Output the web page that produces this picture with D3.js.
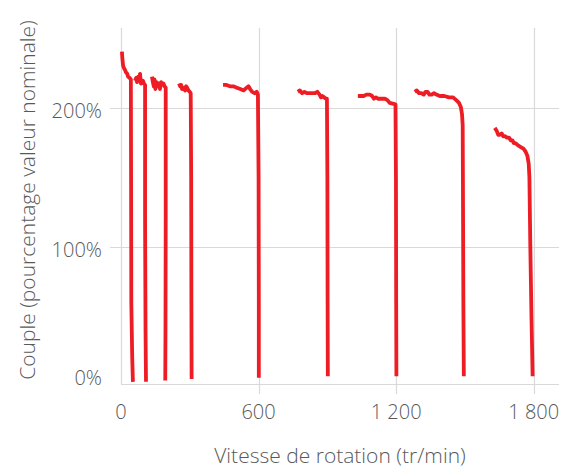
<!DOCTYPE html>
<html>
<head>
<meta charset="utf-8">
<script src="https://cdn.jsdelivr.net/npm/d3@7"></script>
<style>
  html, body { margin: 0; padding: 0; background: #fff; }
  svg { display: block; }
  text { font-family: "Open Sans", "Segoe UI", sans-serif; font-weight: 300; fill: #595959; }
</style>
</head>
<body>
<svg id="chart" width="580" height="470"></svg>
<script>
// Tick values and labels
const xTicks = [0, 600, 1200, 1800];
const xTickLabels = ["0", "600", "1\u00a0200", "1\u00a0800"];
const yTicks = [0, 100, 200];
const yTickLabels = ["0%", "100%", "200%"];

// Torque (% of nominal) vs rotation speed (tr/min), one curve per frequency setting
const curve1 = [[4,241],[6,236],[9,231],[13,229],[17,228],[22,226],[27,225],[31,223],[38,222],[43,221],[44,150],[45,60],[49,20],[52,3]];
const curve2 = [[61,220],[66,222],[70,219],[75,223],[80,221],[83,225],[87,218],[92,219],[96,220],[100,218],[105,217],[105,120],[107,40],[109,3]];
const curve3 = [[135,223],[139,219],[143,216],[146,221],[150,214],[155,219],[161,216],[166,218],[170,214],[175,219],[179,217],[185,218],[190,216],[195,215],[195,120],[194,40],[193,4]];
const curve4 = [[253,218],[258,216],[262,217],[266,214],[270,214],[275,215],[280,213],[284,216],[288,215],[294,213],[300,212],[304,211],[306,150],[307,60],[308,5]];
const curve5 = [[445,217],[460,217],[475,216],[490,216],[505,215],[520,214],[535,213],[548,215],[556,216],[563,214],[572,212],[584,211],[592,212],[597,210],[600,150],[601,60],[601,6]];
const curve6 = [[771,212],[780,213],[790,211],[800,212],[812,211],[824,211],[835,211],[845,211],[856,212],[866,210],[872,208],[878,209],[886,208],[894,207],[898,207],[900,150],[901,60],[902,7]];
const curve7 = [[1033,209],[1045,209],[1058,209],[1070,210],[1085,210],[1095,209],[1103,207],[1112,208],[1122,207],[1135,207],[1151,207],[1162,206],[1172,204],[1197,203],[1199,150],[1200,60],[1201,7]];
const curve8 = [[1281,212],[1290,213],[1300,211],[1310,211],[1320,210],[1328,212],[1337,212],[1345,210],[1355,210],[1365,211],[1375,210],[1390,209],[1410,209],[1430,208],[1448,208],[1462,206],[1474,204],[1482,201],[1487,196],[1490,188],[1491,150],[1493,60],[1495,7]];
const curve9 = [[1630,186],[1638,184],[1645,181],[1652,181],[1660,182],[1667,180],[1675,180],[1683,179],[1692,179],[1700,177],[1707,177],[1713,175],[1720,175],[1727,174],[1735,173],[1745,172],[1755,171],[1764,169],[1772,166],[1778,160],[1781,150],[1785,100],[1790,50],[1795,7]];

const curves = [curve1, curve2, curve3, curve4, curve5, curve6, curve7, curve8, curve9];

const svg = d3.select("#chart");
const margin = { left: 121, right: 21, top: 28, bottom: 85 };
const W = 580, H = 470;

const x = d3.scaleLinear().domain([0, 1910]).range([margin.left, W - margin.right]);
const y = d3.scaleLinear().domain([0, 258]).range([386, margin.top]);
const yBase = 384;
const grid = "#d9d9d9";

// horizontal gridlines
svg.append("g").selectAll("line").data(yTicks.filter(d => d > 0)).join("line")
  .attr("x1", margin.left - 11).attr("x2", W - margin.right)
  .attr("y1", d => Math.round(y(d)) + 0.5).attr("y2", d => Math.round(y(d)) + 0.5)
  .attr("stroke", grid).attr("stroke-width", 1.2);

// vertical gridlines
svg.append("g").selectAll("line").data(xTicks.filter(d => d > 0)).join("line")
  .attr("x1", d => Math.round(x(d)) + 0.5).attr("x2", d => Math.round(x(d)) + 0.5)
  .attr("y1", margin.top).attr("y2", yBase + 10)
  .attr("stroke", grid).attr("stroke-width", 1.2);

// axis lines
svg.append("line").attr("x1", Math.round(x(0)) + 0.5).attr("x2", Math.round(x(0)) + 0.5)
  .attr("y1", margin.top).attr("y2", yBase).attr("stroke", grid).attr("stroke-width", 1.2);
svg.append("line").attr("x1", x(0)).attr("x2", W - margin.right)
  .attr("y1", yBase + 0.5).attr("y2", yBase + 0.5).attr("stroke", grid).attr("stroke-width", 1.2);

// x tick labels
svg.append("g").selectAll("text").data(xTicks).join("text")
  .attr("x", d => x(d)).attr("y", 419)
  .attr("text-anchor", "middle").attr("font-size", 20)
  .text((d, i) => xTickLabels[i]);

// y tick labels
svg.append("g").selectAll("text").data(yTicks).join("text")
  .attr("x", 102).attr("y", d => d === 0 ? 385 : y(d) + 10)
  .attr("text-anchor", "end").attr("font-size", 20)
  .text((d, i) => yTickLabels[i]);

// axis titles
svg.append("text").attr("x", 340).attr("y", 463).attr("text-anchor", "middle")
  .attr("font-size", 21).text("Vitesse de rotation (tr/min)");
svg.append("text").attr("transform", "translate(35,200) rotate(-90)").attr("text-anchor", "middle")
  .attr("font-size", 21).text("Couple (pourcentage valeur nominale)");

// curves
const line = d3.line().x(d => x(d[0])).y(d => y(d[1])).curve(d3.curveLinear);
svg.append("g").selectAll("path").data(curves).join("path")
  .attr("d", line)
  .attr("fill", "none")
  .attr("stroke", "#ee1d25")
  .attr("stroke-width", 3.8)
  .attr("stroke-linejoin", "round");
</script>
</body>
</html>
